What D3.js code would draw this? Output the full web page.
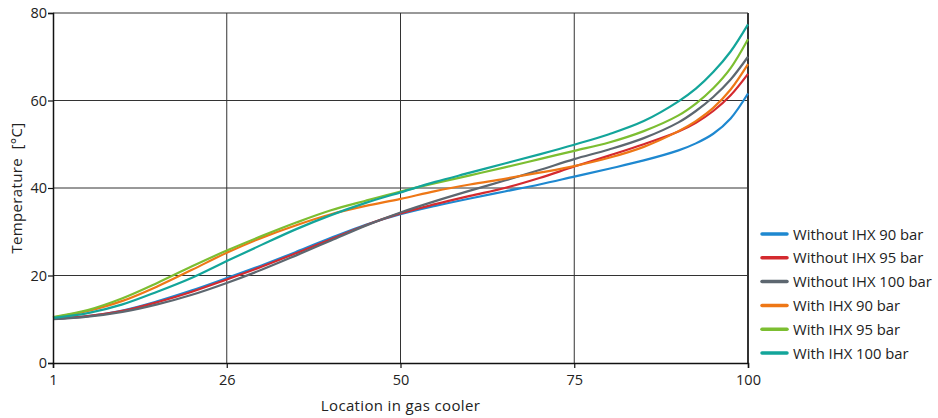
<!DOCTYPE html>
<html>
<head>
<meta charset="utf-8">
<script src="https://cdn.jsdelivr.net/npm/d3@7"></script>
<style>
  html, body { margin: 0; padding: 0; background: #fff; }
  svg { display: block; font-family: "Open Sans", "Noto Sans", sans-serif; }
  .tick text { font-size: 14.5px; fill: #222; }
</style>
</head>
<body>
<svg id="chart" width="938" height="418"></svg>
<script>
// Position along the gas cooler axis (0 = first segment, 100 = last segment)
const coolerPos = [0, 5, 10, 15, 20, 25, 30, 35, 40, 45, 50, 55, 60, 65, 70, 75, 80, 85, 90, 92.5, 95, 97.5, 100];

// CO2 temperature profiles [°C]
const withoutIhx90  = [10.1, 10.7, 12.0, 14.1, 16.6, 19.4, 22.3, 25.4, 28.6, 31.6, 34.0, 35.9, 37.6, 39.2, 40.8, 42.6, 44.4, 46.3, 48.6, 50.2, 52.4, 55.9, 61.6];
const withoutIhx95  = [10.1, 10.7, 11.9, 13.9, 16.3, 19.1, 22.0, 25.1, 28.3, 31.5, 34.2, 36.3, 38.2, 40.0, 42.3, 44.9, 47.4, 50.0, 52.9, 54.9, 57.6, 61.2, 66.1];
const withoutIhx100 = [10.0, 10.6, 11.7, 13.4, 15.6, 18.3, 21.3, 24.6, 28.0, 31.4, 34.4, 37.0, 39.4, 41.7, 44.1, 46.6, 48.8, 51.4, 55.0, 57.6, 60.8, 64.8, 70.0];
const withIhx90     = [10.4, 11.9, 14.2, 17.5, 21.3, 25.2, 28.6, 31.5, 34.0, 35.9, 37.5, 39.3, 40.8, 42.1, 43.5, 45.0, 46.9, 49.4, 53.0, 55.3, 58.3, 62.5, 68.3];
const withIhx95     = [10.5, 12.1, 14.8, 18.3, 22.1, 25.7, 29.0, 32.1, 34.9, 37.1, 39.2, 41.1, 42.9, 44.7, 46.6, 48.5, 50.4, 53.0, 56.6, 59.3, 62.8, 67.4, 74.0];
const withIhx100    = [10.3, 11.4, 13.4, 16.3, 19.5, 23.3, 27.0, 30.6, 33.8, 36.6, 39.0, 41.4, 43.5, 45.6, 47.7, 49.9, 52.3, 55.3, 59.8, 62.7, 66.5, 71.2, 77.4];

const seriesNames = ["Without IHX 90 bar", "Without IHX 95 bar", "Without IHX 100 bar",
                     "With IHX 90 bar", "With IHX 95 bar", "With IHX 100 bar"];
const seriesValues = [withoutIhx90, withoutIhx95, withoutIhx100, withIhx90, withIhx95, withIhx100];
const seriesColors = ["#1e88d0", "#d42a2f", "#5d6770", "#ee7716", "#7cbe31", "#13a59a"];

const xTickPositions = [0, 25, 50, 75, 100];
const xTickLabels = ["1", "26", "50", "75", "100"];
const yTicks = [0, 20, 40, 60, 80];

const svg = d3.select("#chart");
const plot = { left: 53, right: 748, top: 13, bottom: 363 };

const x = d3.scaleLinear().domain([0, 100]).range([plot.left, plot.right]);
const y = d3.scaleLinear().domain([0, 80]).range([plot.bottom, plot.top]);

// grid
const grid = svg.append("g").attr("stroke", "#333").attr("stroke-width", 1);
grid.selectAll("line.h").data(yTicks.filter(d => d > 0 && d < 80)).join("line")
  .attr("class", "h")
  .attr("x1", plot.left).attr("x2", plot.right)
  .attr("y1", d => y(d)).attr("y2", d => y(d));
grid.selectAll("line.v").data(xTickPositions.filter(d => d > 0 && d < 100)).join("line")
  .attr("class", "v")
  .attr("y1", plot.top).attr("y2", plot.bottom)
  .attr("x1", d => x(d)).attr("x2", d => x(d));

// frame top/right
svg.append("line").attr("x1", plot.left).attr("x2", plot.right)
  .attr("y1", plot.top).attr("y2", plot.top).attr("stroke", "#333").attr("stroke-width", 1);
svg.append("line").attr("x1", plot.right).attr("x2", plot.right)
  .attr("y1", plot.top).attr("y2", plot.bottom).attr("stroke", "#333").attr("stroke-width", 2);

// curves
const line = d3.line()
  .x((d, i) => x(coolerPos[i]))
  .y(d => y(d))
  .curve(d3.curveCatmullRom.alpha(0.5));

svg.append("g").attr("fill", "none").attr("stroke-width", 2.2)
  .selectAll("path").data(seriesValues).join("path")
  .attr("stroke", (d, i) => seriesColors[i])
  .attr("d", d => line(d));

// axes
const yAxis = d3.axisLeft(y).tickValues(yTicks).tickSize(5).tickPadding(1);
const gy = svg.append("g").attr("transform", `translate(${plot.left},0)`).call(yAxis);
const xAxis = d3.axisBottom(x).tickValues(xTickPositions)
  .tickFormat((d, i) => xTickLabels[i]).tickSize(5).tickPadding(7);
const gx = svg.append("g").attr("transform", `translate(0,${plot.bottom})`).call(xAxis);
[gx, gy].forEach(g => {
  g.select(".domain").attr("stroke", "#111").attr("stroke-width", 1.5);
  g.selectAll(".tick line").attr("stroke", "#111").attr("stroke-width", 1.2);
  g.attr("font-family", null).attr("font-size", null);
});

// axis titles
svg.append("text")
  .attr("x", x(50)).attr("y", 411)
  .attr("text-anchor", "middle").attr("font-size", 15).attr("letter-spacing", 0.35)
  .attr("fill", "#222")
  .text("Location in gas cooler");
svg.append("text")
  .attr("transform", `translate(22,${(plot.top + plot.bottom) / 2}) rotate(-90)`)
  .attr("text-anchor", "middle").attr("font-size", 15).attr("letter-spacing", 0.35)
  .attr("fill", "#222")
  .style("white-space", "pre")
  .text("Temperature  [°C]");

// legend
const legend = svg.append("g").attr("transform", "translate(762,234)");
const item = legend.selectAll("g").data(seriesNames).join("g")
  .attr("transform", (d, i) => `translate(0,${i * 23.8})`);
item.append("line").attr("x1", 0).attr("x2", 25).attr("y1", 0).attr("y2", 0)
  .attr("stroke", (d, i) => seriesColors[i]).attr("stroke-width", 3.5)
  .attr("stroke-linecap", "round");
item.append("text").attr("x", 31).attr("y", 5.5).attr("font-size", 14.8)
  .attr("fill", "#222")
  .text(d => d);
</script>
</body>
</html>
